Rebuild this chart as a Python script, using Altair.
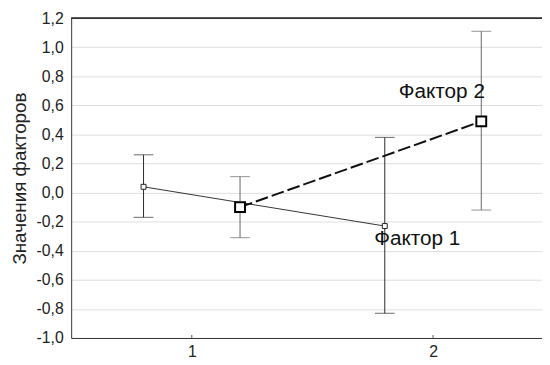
import altair as alt
import pandas as pd

# ---- data ----
groups = [1, 2]
series_names = ["Фактор 1", "Фактор 2"]
f1_mean = [0.04, -0.23]
f1_low = [-0.17, -0.83]
f1_high = [0.26, 0.38]
f2_mean = [-0.10, 0.49]
f2_low = [-0.31, -0.12]
f2_high = [0.11, 1.11]
y_ticks = [-1.0, -0.8, -0.6, -0.4, -0.2, 0.0, 0.2, 0.4, 0.6, 0.8, 1.0, 1.2]
x_ticks = [1, 2]

# series horizontal offsets (style)
offsets = {"Фактор 1": -0.2, "Фактор 2": 0.2}

rows = []
for name, m, lo, hi in [("Фактор 1", f1_mean, f1_low, f1_high),
                        ("Фактор 2", f2_mean, f2_low, f2_high)]:
    for g, mv, lv, hv in zip(groups, m, lo, hi):
        rows.append({"series": name, "x": g + offsets[name], "mean": mv, "low": lv, "high": hv})
df = pd.DataFrame(rows)
d1 = df[df.series == "Фактор 1"]
d2 = df[df.series == "Фактор 2"]

labels = pd.DataFrame({"text": ["Фактор 2", "Фактор 1"], "x": [1.858, 1.756], "y": [0.69, -0.32]})
ticks_df = pd.DataFrame({"x": x_ticks})

W, H = 477, 324
xs = alt.Scale(domain=[0.5, 0.5 + W / 244.4], nice=False, zero=False)
ys = alt.Scale(domain=[-1.0, 1.2], nice=False, zero=False)

label_expr = "replace(replace(format(datum.value, '.1f'), '.', ','), '\u2212', '-')"

xax = alt.Axis(values=x_ticks, labelExpr="format(datum.value, 'd')", grid=False, title=None,
               labelFontSize=16, labelFont="Liberation Sans", labelColor="#222222",
               labelPadding=6, labelOverlap=False, ticks=False, domainColor="#333333")
yax = alt.Axis(values=y_ticks, labelExpr=label_expr, grid=True, title="Значения факторов",
               labelFontSize=16, labelFont="Liberation Sans", labelColor="#222222",
               labelPadding=8, labelOverlap=False, ticks=False, domainColor="#333333",
               gridColor="#dddddd", titleFontSize=19, titleFontWeight="normal",
               titleColor="#222222", titleFont="Liberation Sans", titlePadding=7)

X = alt.X("x:Q", scale=xs, axis=xax)
Ym = alt.Y("mean:Q", scale=ys, axis=yax)

grid = alt.Chart(df).mark_point(opacity=0).encode(x=X, y=Ym)

top_rule = alt.Chart(df).mark_rule(color="#333333", strokeWidth=1).encode(
    x=alt.value(0), x2=alt.value(W), y=alt.value(0))

xticks = alt.Chart(ticks_df).mark_rule(color="#555555").encode(
    x=X, y=alt.value(H), y2=alt.value(H - 3))

def whiskers(d, color):
    Ylo = alt.Y("low:Q", scale=ys, axis=yax)
    Yhi = alt.Y("high:Q", scale=ys, axis=yax)
    bar = alt.Chart(d).mark_rule(color=color, strokeWidth=1).encode(x=X, y=Ylo, y2="high:Q")
    cap_hi = alt.Chart(d).mark_tick(color=color, thickness=1, size=20, orient="horizontal").encode(x=X, y=Yhi)
    cap_lo = alt.Chart(d).mark_tick(color=color, thickness=1, size=20, orient="horizontal").encode(x=X, y=Ylo)
    return bar + cap_hi + cap_lo

w1 = whiskers(d1, "#2a2a2a")
w2 = whiskers(d2, "#666666")

line1 = alt.Chart(d1).mark_line(color="#333333", strokeWidth=1).encode(x=X, y=Ym)
line2 = alt.Chart(d2).mark_line(color="#111111", strokeWidth=2, strokeDash=[13, 4]).encode(x=X, y=Ym)

pts1 = alt.Chart(d1).mark_point(shape="square", size=25, filled=False, fill="white", fillOpacity=1,
                                 color="#222222", strokeWidth=1, opacity=1).encode(x=X, y=Ym)
pts2 = alt.Chart(d2).mark_point(shape="square", size=100, filled=False, fill="white", fillOpacity=1,
                                 color="#000000", strokeWidth=2, opacity=1).encode(x=X, y=Ym)

text = alt.Chart(labels).mark_text(align="left", baseline="middle", fontSize=21,
                                   font="Liberation Sans", color="#111111").encode(
    x=X, y=alt.Y("y:Q", scale=ys, axis=yax), text="text:N")

chart = alt.layer(grid, top_rule, xticks, w1, w2, line1, line2, pts1, pts2, text).properties(
    width=W, height=H, autosize="none",
    padding={"left": 64, "top": 8, "right": 0, "bottom": 20},
).configure_view(stroke=None)

chart.save("out.html", embed_options={"renderer": "svg", "actions": False})
